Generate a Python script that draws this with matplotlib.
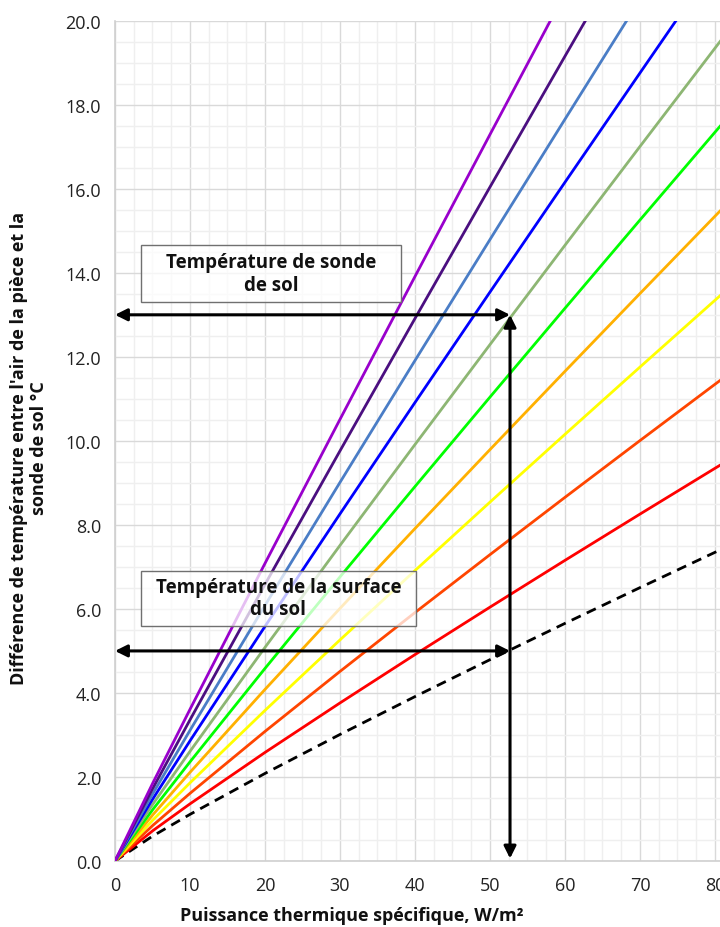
import matplotlib
matplotlib.use("Agg")
import matplotlib.pyplot as plt
from matplotlib.patches import Rectangle
from matplotlib.ticker import MultipleLocator, FormatStrFormatter

plt.rcParams['font.family'] = ['Open Sans', 'DejaVu Sans']

# x positions (W/m²) where the curves are read
x_pts = [0, 5, 10, 20, 30, 40, 50, 60, 70, 80, 90]

# Temperature difference series (°C)
dashed_black = [0, 0.591, 1.110, 2.084, 3.012, 3.913, 4.792, 5.656, 6.507, 7.347, 8.178]
red = [0, 0.716, 1.360, 2.584, 3.762, 4.913, 6.042, 7.156, 8.257, 9.347, 10.428]
orangered = [0, 0.841, 1.610, 3.084, 4.512, 5.913, 7.292, 8.656, 10.007, 11.347, 12.678]
yellow = [0, 0.966, 1.860, 3.584, 5.262, 6.913, 8.542, 10.156, 11.757, 13.347, 14.928]
orange = [0, 1.091, 2.110, 4.084, 6.012, 7.913, 9.792, 11.656, 13.507, 15.347, 17.178]
green = [0, 1.216, 2.360, 4.584, 6.762, 8.913, 11.042, 13.156, 15.257, 17.347, 19.428]
graygreen = [0, 1.341, 2.610, 5.084, 7.512, 9.913, 12.292, 14.656, 17.007, 19.347, 21.678]
blue = [0, 1.466, 2.860, 5.584, 8.262, 10.913, 13.542, 16.156, 18.757, 21.347, 23.928]
steelblue = [0, 1.591, 3.110, 6.084, 9.012, 11.913, 14.792, 17.656, 20.507, 23.347, 26.178]
indigo = [0, 1.716, 3.360, 6.584, 9.762, 12.913, 16.042, 19.156, 22.257, 25.347, 28.428]
violet = [0, 1.841, 3.610, 7.084, 10.512, 13.913, 17.292, 20.656, 24.007, 27.347, 30.678]

series = [
    (red, '#FF0000'),
    (orangered, '#FF4500'),
    (yellow, '#FFFF00'),
    (orange, '#FFB000'),
    (green, '#00FF00'),
    (graygreen, '#8DB673'),
    (blue, '#0000FF'),
    (steelblue, '#4A7DC6'),
    (indigo, '#4B0F80'),
    (violet, '#9900CC'),
]

# reading lines (W/m², °C)
read_x = 52.67
read_probe = 13.0
read_surface = 5.0

xticks = [0, 10, 20, 30, 40, 50, 60, 70, 80]
yticks = [0, 2, 4, 6, 8, 10, 12, 14, 16, 18, 20]

label_probe = "Température de sonde\nde sol"
label_surface = "Température de la surface\ndu sol"
xlabel = "Puissance thermique spécifique, W/m²"
ylabel = "Différence de température entre l'air de la pièce et la\nsonde de sol °C"

fig = plt.figure(figsize=(7.2, 9.28), dpi=100)
ax = fig.add_axes([115/720, 66/928, 605/720, (862-21.7)/928])

ax.set_xlim(0, 605/7.5)
ax.set_ylim(0, 20)
ax.xaxis.set_minor_locator(MultipleLocator(2.5))
ax.yaxis.set_minor_locator(MultipleLocator(0.5))
ax.set_xticks(xticks)
ax.set_yticks(yticks)
ax.yaxis.set_major_formatter(FormatStrFormatter('%.1f'))
ax.grid(which='major', color='#d9d9d9', linewidth=1.0)
ax.grid(which='minor', color='#efefef', linewidth=1.0)
ax.set_axisbelow(True)
ax.tick_params(which='both', length=0, labelsize=13, colors='#222222')
ax.tick_params(axis='x', pad=11)
ax.tick_params(axis='y', pad=10)
for s in ['top', 'right']:
    ax.spines[s].set_visible(False)
for s in ['left', 'bottom']:
    ax.spines[s].set_color('#d0d0d0')
    ax.spines[s].set_linewidth(1.2)

ax.plot(x_pts, dashed_black, color='black', linewidth=2.0, linestyle=(0, (3.6, 2.4)), zorder=3)
for vals, col in series:
    ax.plot(x_pts, vals, color=col, linewidth=2.0, zorder=3, solid_capstyle='butt')

arrow_kw = dict(arrowstyle='<|-|>', color='black', lw=2.2, mutation_scale=18, shrinkA=0, shrinkB=0)
ax.annotate('', xy=(0, read_probe), xytext=(read_x, read_probe), arrowprops=arrow_kw, zorder=6)
ax.annotate('', xy=(0, read_surface), xytext=(read_x, read_surface), arrowprops=arrow_kw, zorder=6)
ax.annotate('', xy=(read_x, 0.06), xytext=(read_x, read_probe), arrowprops=arrow_kw, zorder=6)

# annotation boxes
b1 = (3.47, 13.30, 34.66, 1.37)
b2 = (3.47, 5.60, 36.66, 1.31)
for (bx, by, bw, bh), txt in [(b1, label_probe), (b2, label_surface)]:
    ax.add_patch(Rectangle((bx, by), bw, bh, facecolor='white', alpha=0.75, edgecolor='none', zorder=7))
    ax.add_patch(Rectangle((bx, by), bw, bh, facecolor='none', edgecolor='#707070', lw=1.0, zorder=8))
    ax.text(bx + bw/2, by + bh/2, txt, ha='center', va='center', fontsize=13.5,
            fontweight='bold', linespacing=1.15, zorder=9, color='#111111')

fig.text(352/720, 1 - 916/928, xlabel, ha='center', va='center', fontsize=13, fontweight='bold', color='#111111')
fig.text(29/720, 1 - 448/928, ylabel, ha='center', va='center', rotation=90, fontsize=13,
         fontweight='bold', linespacing=1.2, multialignment='center', color='#111111')

fig.savefig('out.png', dpi=100)
